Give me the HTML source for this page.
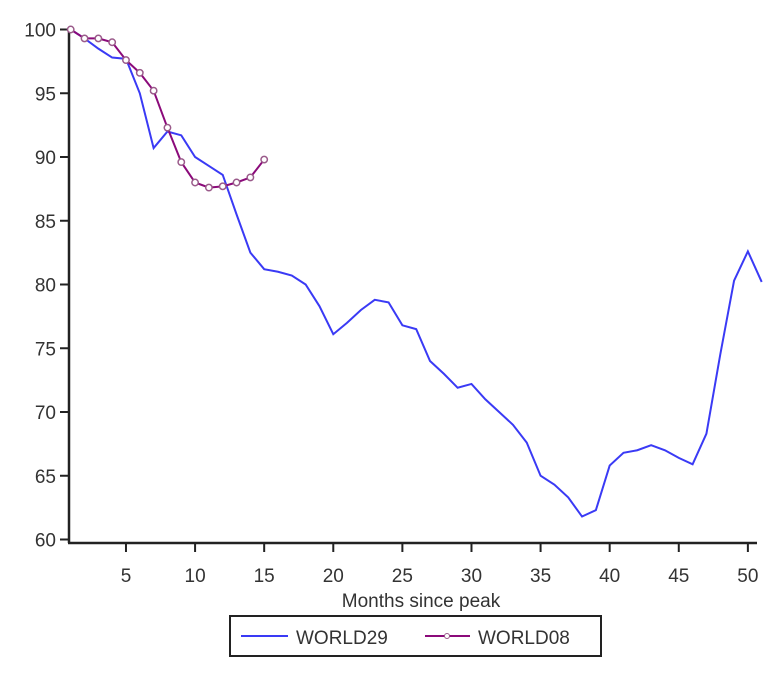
<!DOCTYPE html>
<html><head><meta charset="utf-8"><style>
html,body{margin:0;padding:0;background:#fff;width:780px;height:674px;overflow:hidden}
text{font-family:"Liberation Sans",sans-serif;fill:#333}
</style></head><body>
<svg id="s" width="780" height="674" xmlns="http://www.w3.org/2000/svg"></svg>
<script>
const s=document.getElementById('s');
const X=m=>70.7+(m-1)*13.82, Y=v=>29.5+(100-v)*12.75;
let h='';
h+='<line x1="69" y1="28" x2="69" y2="543" stroke="#222" stroke-width="2.5"/>';
h+='<line x1="68" y1="543" x2="757" y2="543" stroke="#222" stroke-width="2.5"/>';
for(let v=60;v<=100;v+=5){const y=Y(v);h+=`<line x1="60" y1="${y}" x2="69" y2="${y}" stroke="#222" stroke-width="2"/><text x="56" y="${y+7}" font-size="19" text-anchor="end">${v}</text>`;}
for(let m=5;m<=50;m+=5){const x=X(m);h+=`<line x1="${x}" y1="543" x2="${x}" y2="552" stroke="#222" stroke-width="2"/><text x="${x}" y="582" font-size="19" text-anchor="middle">${m}</text>`;}
h+='<text x="421" y="607" font-size="19" text-anchor="middle">Months since peak</text>';
const a=[100,99.3,98.5,97.8,97.7,95,90.7,92,91.7,90,89.3,88.6,85.5,82.5,81.2,81,80.7,80,78.3,76.1,77,78,78.8,78.6,76.8,76.5,74,73,71.9,72.2,71,70,69,67.6,65,64.3,63.3,61.8,62.3,65.8,66.8,67,67.4,67,66.4,65.9,68.3,74.5,80.3,82.6,80.2];
const b=[100,99.3,99.3,99.0,97.6,96.6,95.2,92.3,89.6,88,87.6,87.7,88,88.4,89.8];
h+=`<polyline fill="none" stroke="#3a3af5" stroke-width="2" points="${a.map((v,i)=>X(i+1)+','+Y(v)).join(' ')}"/>`;
h+=`<polyline fill="none" stroke="#8b0a7a" stroke-width="2" points="${b.map((v,i)=>X(i+1)+','+Y(v)).join(' ')}"/>`;
b.forEach((v,i)=>{h+=`<circle cx="${X(i+1)}" cy="${Y(v)}" r="3.2" fill="#fff" stroke="#9a5a8a" stroke-width="1.5"/>`});
h+='<rect x="230" y="616" width="371" height="40" fill="#fff" stroke="#222" stroke-width="2"/>';
h+='<line x1="241" y1="636" x2="288" y2="636" stroke="#3a3af5" stroke-width="2"/><text x="296" y="644" font-size="19" font-family="Liberation Serif">WORLD29</text>';
h+='<line x1="425" y1="636" x2="470" y2="636" stroke="#8b0a7a" stroke-width="2"/><circle cx="447" cy="636" r="2.5" fill="#fff" stroke="#9a5a8a"/><text x="478" y="644" font-size="19">WORLD08</text>';
s.innerHTML=h;
</script>
</body></html>
